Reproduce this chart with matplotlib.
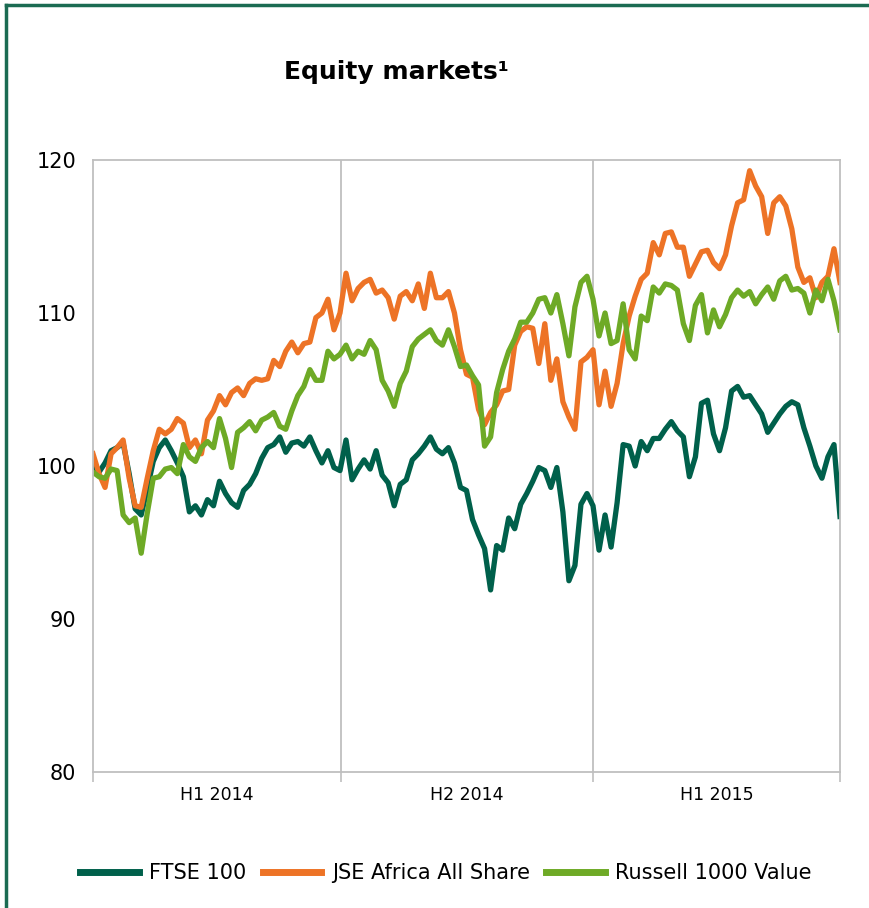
import matplotlib
matplotlib.use("Agg")
import matplotlib.pyplot as plt
from matplotlib.lines import Line2D
import numpy as np

# index values, ~weekly samples over Jan 2014 - Jun 2015
ftse = [100.0, 99.6, 100.2, 101.0, 101.2, 101.5, 99.5, 97.2, 96.8, 98.5,
        100.3, 101.2, 101.7, 101.0, 100.2, 99.3, 97.0, 97.4, 96.8, 97.8,
        97.4, 99.0, 98.2, 97.6, 97.3, 98.4, 98.8, 99.5, 100.5, 101.2,
        101.4, 101.9, 100.9, 101.5, 101.6, 101.3, 101.9, 101.0, 100.2, 101.0,
        99.9, 99.7, 101.7, 99.1, 99.8, 100.4, 99.8, 101.0, 99.4, 98.9,
        97.4, 98.8, 99.1, 100.4, 100.8, 101.3, 101.9, 101.1, 100.8, 101.2,
        100.2, 98.6, 98.4, 96.5, 95.5, 94.6, 91.9, 94.8, 94.5, 96.6,
        95.9, 97.5, 98.2, 99.0, 99.9, 99.7, 98.6, 99.9, 97.0, 92.5,
        93.5, 97.5, 98.2, 97.4, 94.5, 96.8, 94.7, 97.6, 101.4, 101.3,
        100.0, 101.6, 101.0, 101.8, 101.8, 102.4, 102.9, 102.3, 101.9, 99.3,
        100.6, 104.1, 104.3, 102.1, 101.0, 102.5, 104.9, 105.2, 104.5, 104.6,
        104.0, 103.4, 102.2, 102.8, 103.4, 103.9, 104.2, 104.0, 102.5, 101.3,
        100.0, 99.2, 100.6, 101.4, 96.7]

jse = [100.8, 99.5, 98.6, 100.8, 101.2, 101.7, 99.2, 97.4, 97.3, 99.2,
       101.0, 102.4, 102.1, 102.4, 103.1, 102.8, 101.2, 101.7, 100.8, 103.0,
       103.6, 104.6, 104.0, 104.8, 105.1, 104.6, 105.4, 105.7, 105.6, 105.7,
       106.9, 106.5, 107.5, 108.1, 107.4, 108.0, 108.1, 109.7, 110.0, 110.9,
       108.9, 110.0, 112.6, 110.8, 111.6, 112.0, 112.2, 111.3, 111.5, 111.0,
       109.6, 111.1, 111.4, 110.8, 111.9, 110.3, 112.6, 111.0, 111.0, 111.4,
       110.0, 107.6, 106.0, 105.8, 103.7, 102.7, 103.5, 104.0, 104.9, 105.0,
       107.9, 108.8, 109.1, 109.0, 106.7, 109.3, 105.6, 107.0, 104.2, 103.2,
       102.4, 106.8, 107.1, 107.6, 104.0, 106.2, 103.9, 105.4, 108.0, 109.8,
       111.1, 112.2, 112.6, 114.6, 113.8, 115.2, 115.3, 114.3, 114.3, 112.4,
       113.2, 114.0, 114.1, 113.3, 112.9, 113.8, 115.7, 117.2, 117.4, 119.3,
       118.3, 117.6, 115.2, 117.2, 117.6, 117.0, 115.5, 113.0, 112.0, 112.3,
       111.0, 112.0, 112.4, 114.2, 112.0]

russell = [99.6, 99.3, 99.2, 99.8, 99.7, 96.8, 96.3, 96.6, 94.3, 96.9,
           99.2, 99.3, 99.8, 99.9, 99.5, 101.4, 100.6, 100.3, 101.2, 101.6,
           101.2, 103.1, 101.8, 99.9, 102.2, 102.5, 102.9, 102.3, 103.0, 103.2,
           103.5, 102.6, 102.4, 103.6, 104.6, 105.2, 106.3, 105.6, 105.6, 107.5,
           107.0, 107.3, 107.9, 107.0, 107.5, 107.3, 108.2, 107.6, 105.6, 104.9,
           103.9, 105.4, 106.2, 107.8, 108.3, 108.6, 108.9, 108.2, 107.9, 108.9,
           107.8, 106.5, 106.6, 105.9, 105.3, 101.3, 101.9, 104.8, 106.3, 107.5,
           108.3, 109.4, 109.4, 110.0, 110.9, 111.0, 110.0, 111.2, 109.3, 107.2,
           110.4, 112.0, 112.4, 110.9, 108.5, 110.0, 108.0, 108.2, 110.6, 107.6,
           107.0, 109.8, 109.5, 111.7, 111.3, 111.9, 111.8, 111.5, 109.3, 108.2,
           110.5, 111.2, 108.7, 110.2, 109.1, 109.9, 111.0, 111.5, 111.1, 111.4,
           110.6, 111.2, 111.7, 110.9, 112.1, 112.4, 111.5, 111.6, 111.3, 110.0,
           111.5, 110.8, 112.2, 110.8, 108.9]

periods = ["H1 2014", "H2 2014", "H1 2015"]
period_edges = [0, 41.2, 83, 124]
series_names = ["FTSE 100", "JSE Africa All Share", "Russell 1000 Value"]
colors = ["#00604B", "#ED7326", "#6EAA26"]

fig = plt.figure(figsize=(8.69, 9.08), dpi=100)
ax = fig.add_axes([93 / 869, 1 - 772 / 908, 747 / 869, 612 / 908])

x = np.arange(len(ftse))
for vals, name, c in zip([ftse, jse, russell], series_names, colors):
    ax.plot(x, vals, color=c, lw=3.8, label=name, solid_joinstyle="round")

ax.set_xlim(0, len(ftse) - 1)
ax.set_ylim(80, 120)
ax.set_yticks([80, 90, 100, 110, 120])
ax.tick_params(axis="y", length=0, pad=12, labelsize=15)

ax.set_xticks(period_edges)
ax.set_xticklabels([])
ax.tick_params(axis="x", which="major", length=7, color="#BFBFBF", width=1.2)
centers = [(a + b) / 2 for a, b in zip(period_edges[:-1], period_edges[1:])]
ax.set_xticks(centers, minor=True)
ax.set_xticklabels(periods, minor=True)
ax.tick_params(axis="x", which="minor", length=0, pad=10, labelsize=12.5)

for e in period_edges[1:-1]:
    ax.axvline(e, color="#BFBFBF", lw=1.3, zorder=0)
for s in ax.spines.values():
    s.set_color("#BFBFBF")
    s.set_linewidth(1.3)

fig.text(396 / 869, 1 - 72 / 908, "Equity markets\u00b9", ha="center", va="center",
         fontsize=18, fontweight="bold")

fig.legend(loc="center", bbox_to_anchor=(446 / 869, 1 - 873 / 908), ncol=3,
           frameon=False, fontsize=15, handlelength=2.8, columnspacing=0.8,
           handletextpad=0.5)
for lh in fig.legends[0].get_lines():
    lh.set_linewidth(5)

# dark green frame (left and top edges visible)
fig.add_artist(Line2D([5.5 / 869, 5.5 / 869], [0, 1 - 4.5 / 908], color="#1B6B52", lw=2.5))
fig.add_artist(Line2D([5.5 / 869, 1], [1 - 4.5 / 908, 1 - 4.5 / 908], color="#1B6B52", lw=2.5))

fig.savefig("out.png", dpi=100)
